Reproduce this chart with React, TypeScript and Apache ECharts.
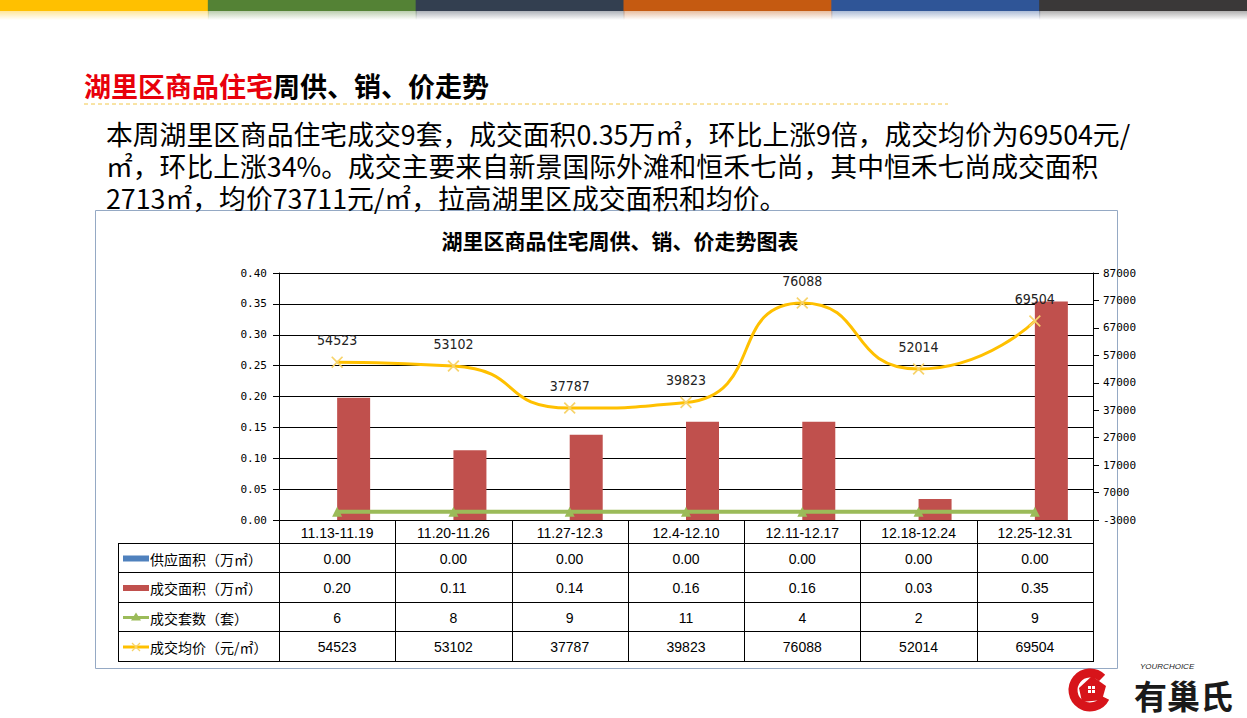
import React, { useEffect, useRef } from "react";
import * as echarts from "echarts";

const categories = ["11.13-11.19", "11.20-11.26", "11.27-12.3", "12.4-12.10", "12.11-12.17", "12.18-12.24", "12.25-12.31"];
const supplyArea = [0, 0, 0, 0, 0, 0, 0];
const dealArea = [0.198, 0.113, 0.138, 0.159, 0.159, 0.034, 0.354];
const dealUnits = [6, 8, 9, 11, 4, 2, 9];
const avgPrice = [54523, 53102, 37787, 39823, 76088, 52014, 69504];
const leftTicks = { min: 0, max: 0.4, interval: 0.05 };
const rightTicks = { min: -3000, max: 87000, interval: 10000 };
const seriesNames = ["供应面积（万㎡）", "成交面积（万㎡）", "成交套数（套）", "成交均价（元/㎡）"];
const headingRed = "湖里区商品住宅";
const headingBlack = "周供、销、价走势";
const chartTitle = "湖里区商品住宅周供、销、价走势图表";
const paragraph = [
  "本周湖里区商品住宅成交9套，成交面积0.35万㎡，环比上涨9倍，成交均价为69504元/",
  "㎡，环比上涨34%。成交主要来自新景国际外滩和恒禾七尚，其中恒禾七尚成交面积",
  "2713㎡，均价73711元/㎡，拉高湖里区成交面积和均价。",
];
const stripColors = ["#FFC000", "#548235", "#333F50", "#C55A11", "#2F5597", "#3A3838"];

const W = 1247;
const H = 718;
const G = { left: 279, right: 1093, top: 273, bottom: 520 };
const rowLines = [543, 572, 602, 631, 661];
const tableLeft = 118;
const CJK = "'Noto Sans CJK SC', 'Noto Sans', sans-serif";
const NUM = "'Liberation Sans', Arial, sans-serif";
const XPATH = "path://M0,1L1,0L5,4L9,0L10,1L6,5L10,9L9,10L5,6L1,10L0,9L4,5Z";

export default function App() {
  const ref = useRef<HTMLDivElement>(null);
  useEffect(() => {
    if (!ref.current) return;
    const chart = echarts.init(ref.current, undefined, { renderer: "svg" });
    const colW = (G.right - G.left) / categories.length;

    const option: any = {
      animation: false,
      backgroundColor: "#ffffff",
      grid: { left: G.left, top: G.top, width: G.right - G.left, height: G.bottom - G.top, containLabel: false },
      xAxis: {
        type: "category",
        data: categories,
        axisLine: { show: true, lineStyle: { color: "#000", width: 1 } },
        axisTick: { show: false },
        axisLabel: { color: "#000", fontSize: 14, fontFamily: NUM, margin: 6, interval: 0 },
      },
      yAxis: [
        {
          type: "value",
          min: leftTicks.min,
          max: leftTicks.max,
          interval: leftTicks.interval,
          axisLine: { show: true, lineStyle: { color: "#000" } },
          axisTick: { show: true, length: 6, lineStyle: { color: "#000" } },
          axisLabel: { color: "#000", fontSize: 11, fontFamily: "'DejaVu Sans Mono', monospace", margin: 12, formatter: (v: number) => v.toFixed(2) },
          splitLine: { show: true, lineStyle: { color: "#000", width: 1 } },
        },
        {
          type: "value",
          min: rightTicks.min,
          max: rightTicks.max,
          interval: rightTicks.interval,
          position: "right",
          axisLine: { show: true, lineStyle: { color: "#000" } },
          axisTick: { show: true, length: 6, lineStyle: { color: "#000" } },
          axisLabel: { color: "#000", fontSize: 11, fontFamily: "'DejaVu Sans Mono', monospace", margin: 10, formatter: (v: number) => String(v) },
          splitLine: { show: false },
        },
      ],
      series: [
        { name: seriesNames[0], type: "bar", data: supplyArea, barWidth: 33, barGap: "0%", itemStyle: { color: "#4F81BD" }, yAxisIndex: 0 },
        { name: seriesNames[1], type: "bar", data: dealArea, barWidth: 33, barGap: "0%", itemStyle: { color: "#C0504D" }, yAxisIndex: 0 },
        {
          name: seriesNames[2], type: "line", data: dealUnits, yAxisIndex: 1,
          lineStyle: { color: "#9BBB59", width: 4 }, itemStyle: { color: "#9BBB59" },
          symbol: "triangle", symbolSize: 10, z: 5,
        },
        {
          name: seriesNames[3], type: "line", data: avgPrice, yAxisIndex: 1, smooth: 0.6,
          lineStyle: { color: "#FFC000", width: 3 }, itemStyle: { color: "#F7D36A" },
          symbol: XPATH, symbolSize: 12, z: 6,
          label: { show: true, position: "top", distance: 9, color: "#222", fontSize: 14, fontFamily: "'DejaVu Sans Condensed', 'DejaVu Sans', sans-serif", fontStretch: "condensed" },
        },
      ],
      graphic: [] as any[],
    };
    chart.setOption(option);

    const g: any[] = [];
    stripColors.forEach((c, i) => {
      const x = (W / 6) * i;
      g.push({ type: "rect", shape: { x, y: 0, width: W / 6 + 1, height: 11 }, style: { fill: c }, silent: true });
      g.push({
        type: "rect", shape: { x, y: 11, width: W / 6 + 1, height: 9 },
        style: { fill: new echarts.graphic.LinearGradient(0, 0, 0, 1, [{ offset: 0, color: c + "66" }, { offset: 1, color: c + "00" }]) },
        silent: true,
      });
    });
    const hs = 27;
    g.push({ type: "text", x: 84, y: 85, style: { text: headingRed, fill: "#E8000B", font: `bold ${hs}px ${CJK}`, textVerticalAlign: "middle" } });
    g.push({ type: "text", x: 84 + hs * headingRed.length, y: 85, style: { text: headingBlack, fill: "#000", font: `bold ${hs}px ${CJK}`, textVerticalAlign: "middle" } });
    g.push({ type: "line", shape: { x1: 84, y1: 104, x2: 948, y2: 104 }, style: { stroke: "#F2C84B", lineWidth: 1, lineDash: [4, 3] } });
    g.push({ type: "text", x: 106, y: 117, style: { text: paragraph.join("\n"), fill: "#000", font: `26.8px ${CJK}`, lineHeight: 32, textVerticalAlign: "top" } });
    g.push({ type: "rect", shape: { x: 95.5, y: 210.5, width: 1022, height: 458 }, style: { fill: "none", stroke: "#95A9C4", lineWidth: 1 }, z: -1 });
    g.push({ type: "text", x: 620, y: 240, style: { text: chartTitle, fill: "#000", font: `bold 21px ${CJK}`, textAlign: "center", textVerticalAlign: "middle" } });

    const L = "#000";
    rowLines.forEach((y) => {
      g.push({ type: "line", shape: { x1: tableLeft, y1: y + 0.5, x2: G.right, y2: y + 0.5 }, style: { stroke: L, lineWidth: 1 } });
    });
    g.push({ type: "line", shape: { x1: tableLeft + 0.5, y1: rowLines[0], x2: tableLeft + 0.5, y2: rowLines[4] + 1 }, style: { stroke: L, lineWidth: 1 } });
    for (let i = 0; i <= categories.length; i++) {
      const x = Math.round(G.left + colW * i) + 0.5;
      g.push({ type: "line", shape: { x1: x, y1: G.bottom, x2: x, y2: rowLines[4] + 1 }, style: { stroke: L, lineWidth: 1 } });
    }
    const rows = [
      supplyArea.map((v) => v.toFixed(2)),
      dealArea.map((v) => v.toFixed(2)),
      dealUnits.map((v) => String(v)),
      avgPrice.map((v) => String(v)),
    ];
    rows.forEach((vals, r) => {
      const cy = (rowLines[r] + rowLines[r + 1]) / 2 + 1;
      vals.forEach((t, i) => {
        const cx = chart.convertToPixel({ xAxisIndex: 0 }, i) as number;
        g.push({ type: "text", x: cx, y: cy, style: { text: t, fill: "#000", font: `14px ${NUM}`, textAlign: "center", textVerticalAlign: "middle" } });
      });
      g.push({ type: "text", x: 150, y: cy, style: { text: seriesNames[r], fill: "#000", font: `14px ${CJK}`, textVerticalAlign: "middle" } });
      if (r === 0 || r === 1) {
        g.push({ type: "rect", shape: { x: 123, y: cy - 3, width: 26, height: 6 }, style: { fill: r === 0 ? "#4F81BD" : "#C0504D" } });
      } else if (r === 2) {
        g.push({ type: "line", shape: { x1: 123, y1: cy, x2: 149, y2: cy }, style: { stroke: "#9BBB59", lineWidth: 3 } });
        g.push({ type: "polygon", shape: { points: [[136, cy - 5], [141, cy + 3], [131, cy + 3]] }, style: { fill: "#9BBB59" } });
      } else {
        g.push({ type: "line", shape: { x1: 123, y1: cy, x2: 149, y2: cy }, style: { stroke: "#FFC000", lineWidth: 3 } });
        g.push({ type: "line", shape: { x1: 132, y1: cy - 4, x2: 140, y2: cy + 4 }, style: { stroke: "#F7D36A", lineWidth: 1.2 } });
        g.push({ type: "line", shape: { x1: 140, y1: cy - 4, x2: 132, y2: cy + 4 }, style: { stroke: "#F7D36A", lineWidth: 1.2 } });
      }
    });

    g.push({ type: "arc", shape: { cx: 1090, cy: 690, r: 17, startAngle: Math.PI * 0.15, endAngle: Math.PI * 1.75 }, style: { stroke: "#D7141A", lineWidth: 9, fill: "none" } });
    g.push({ type: "polygon", shape: { points: [[1079, 688], [1092, 676], [1106, 686], [1102, 700], [1082, 702]] }, style: { fill: "#D7141A" } });
    [[1088, 686], [1092, 686], [1088, 690], [1092, 690]].forEach(([x, y]) => {
      g.push({ type: "rect", shape: { x, y, width: 3, height: 3 }, style: { fill: "#fff" } });
    });
    g.push({ type: "text", x: 1140, y: 666, style: { text: "YOURCHOICE", fill: "#222", font: `italic 8px ${NUM}`, textVerticalAlign: "middle" } });
    g.push({ type: "text", x: 1134, y: 695, style: { text: "有巢氏", fill: "#1a1a1a", font: `bold 33px ${CJK}`, textVerticalAlign: "middle" } });

    chart.setOption({ graphic: g });
    return () => chart.dispose();
  }, []);
  return <div ref={ref} style={{ position: "fixed", left: 0, top: 0, width: W, height: H }} />;
}
